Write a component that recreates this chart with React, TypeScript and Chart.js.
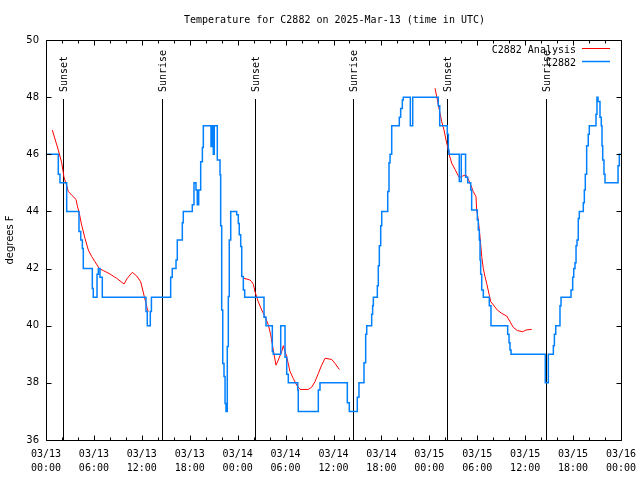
import React, { useEffect, useRef } from 'react';
import { Chart, registerables } from 'chart.js';

Chart.register(...registerables);

const chartTitle = 'Temperature for C2882 on 2025-Mar-13 (time in UTC)';
const yAxisTitle = 'degrees F';

// x positions are hours since 03/13 00:00 UTC
const xTickDates = ['03/13', '03/13', '03/13', '03/13', '03/14', '03/14', '03/14', '03/14', '03/15', '03/15', '03/15', '03/15', '03/16'];
const xTickTimes = ['00:00', '06:00', '12:00', '18:00', '00:00', '06:00', '12:00', '18:00', '00:00', '06:00', '12:00', '18:00', '00:00'];

const eventHours = [2.13, 14.56, 26.17, 38.48, 50.25, 62.57];
const eventLabels = ['Sunset', 'Sunrise', 'Sunset', 'Sunrise', 'Sunset', 'Sunrise'];

// C2882 observations (value holds from its hour until the next change)
const stationHours = [
  0, 1.54, 1.75, 2.59, 4.13, 4.35, 4.55, 4.67, 5.8, 5.92, 6.39, 6.55, 6.76, 7.05,
  12.52, 12.68, 13.06, 13.2, 15.61, 15.81, 16.28, 16.44, 17.07, 17.19, 18.32, 18.53,
  18.78, 18.94, 19.12, 19.37, 19.58, 19.7, 20.66, 20.82, 20.95, 21.07, 21.45, 21.79,
  21.87, 22.0, 22.13, 22.29, 22.42, 22.54, 22.7, 22.83, 22.95, 23.13, 23.88, 24.08,
  24.2, 24.38, 24.51, 24.71, 24.88, 27.3, 27.55, 28.34, 28.46, 29.39, 29.93, 30.14,
  30.34, 31.52, 31.59, 34.1, 34.31, 37.73, 37.98, 38.98, 39.19, 39.82, 40.03, 40.16,
  40.78, 40.9, 40.99, 41.49, 41.61, 41.74, 41.91, 42.04, 42.79, 42.95, 43.08, 43.29,
  44.24, 44.41, 44.62, 44.74, 45.62, 45.92, 49.12, 49.3, 50.25, 50.38, 50.46, 51.75,
  52.0, 52.54, 52.8, 53.18, 53.3, 54.01, 54.13, 54.26, 54.35, 54.43, 54.56, 54.76,
  55.51, 55.72, 57.81, 57.98, 58.1, 58.23, 62.52, 62.9, 63.53, 63.66, 63.83, 64.36,
  64.49, 65.74, 65.95, 66.08, 66.24, 66.37, 66.49, 66.65, 66.78, 67.28, 67.41, 67.53,
  67.7, 67.9, 68.03, 68.87, 68.99, 69.12, 69.37, 69.53, 69.62, 69.71, 69.87, 70.0,
  71.63, 71.79, 72
];
const stationTemps = [
  46, 45.3, 45, 44, 43.3, 43, 42.7, 42, 41.3, 41, 41.8, 42, 41.7, 41,
  40.5, 40, 40.5, 41, 41.7, 42, 42.3, 43, 43.6, 44, 44.23, 45,
  44.75, 44.23, 44.75, 45.74, 46.24, 47, 46.27, 47, 46.0, 47, 45.8, 45.28,
  43.5, 40.55, 38.68, 38.22, 37.28, 37.0, 39.27, 41.02, 43.0, 44, 43.88, 43.58,
  43.18, 42.77, 41.72, 41.25, 41, 40.3, 40, 39.1, 39, 40, 38.9, 38.3,
  38, 37.75, 37, 37.75, 38, 37.3, 37, 37.5, 38, 38.7, 39.7, 40,
  40.4, 40.7, 41, 41.4, 42.1, 42.8, 43.5, 44, 44.7, 45.7, 46, 47,
  47.3, 47.6, 47.9, 48, 47, 48, 47.7, 47, 46.7, 46.15, 46, 45.05,
  46, 45.2, 45, 44.75, 44.05, 43.7, 43.35, 43, 42.3, 41.8, 41.25, 41,
  40.7, 40, 39.7, 39.4, 39.15, 39, 38, 39, 39.3, 39.7, 40, 40.7,
  41, 41.25, 41.7, 42, 42.2, 42.8, 43, 43.75, 44, 44.3, 44.75, 45.3,
  46.3, 46.7, 47, 47.4, 48, 47.85, 47.3, 47, 46.3, 45.8, 45.3, 45,
  45.6, 46, 46
];

// C2882 Analysis (null separates the three runs)
const analysisHours = [
  0.79, 1.54, 1.97, 2.25, 2.59, 2.79, 3.22, 3.76, 3.92, 4.17, 4.47, 4.88, 5.3, 5.72,
  6.14, 6.67, 7.18, 8.01, 8.85, 9.77, 10.18, 10.81, 11.36, 11.86, 12.11, 12.31, 12.52,
  12.68, 12.81,
  18.0,
  24.79, 25.54, 25.76, 25.96, 26.17, 26.58, 27.01, 27.42, 27.84, 28.14, 28.46, 28.8,
  29.09, 29.51, 29.71, 30.14, 30.55, 30.97, 31.39, 31.81, 32.85, 33.27, 33.68, 34.1,
  34.52, 34.94, 35.78, 36.19, 36.73,
  42.0,
  48.71, 49.05, 49.34, 49.55, 49.84, 50.09, 50.38, 50.5, 50.8, 51.22, 51.75, 52.18,
  52.47, 52.68, 52.88, 53.18, 53.51, 53.84, 53.93, 54.13, 54.35, 54.56, 54.76, 54.97,
  55.18, 55.51, 55.69, 56.01, 56.51, 57.06, 57.69, 58.1, 58.52, 59.02, 59.69, 60.11,
  60.82
];
const analysisTemps = [
  46.85, 46.15, 45.7, 45.2, 44.9, 44.7, 44.57, 44.42, 44.2, 43.93, 43.52, 43.06, 42.65, 42.42,
  42.24, 42.0, 41.93, 41.81, 41.66, 41.46, 41.66, 41.87, 41.74, 41.54, 41.25, 41.02, 40.78,
  40.6, 40.5,
  null,
  41.66, 41.6, 41.54, 41.45, 41.19, 40.84, 40.55, 40.32, 40.03, 39.68, 39.15, 38.62,
  38.8, 39.09, 39.3, 38.92, 38.4, 38.15, 37.92, 37.77, 37.77, 37.85, 38.04, 38.33,
  38.62, 38.86, 38.82, 38.68, 38.47,
  null,
  48.31, 47.84, 47.43, 47.14, 46.85, 46.5, 46.15, 45.98, 45.69, 45.47, 45.18, 45.24,
  45.27, 45.25, 45.13, 44.93, 44.69, 44.52, 44.05, 43.7, 43.1, 42.42, 42.0, 41.72,
  41.48, 41.07, 40.84, 40.73, 40.55, 40.43, 40.34, 40.14, 39.94, 39.83, 39.79, 39.85,
  39.87
];

const MONO = '"DejaVu Sans Mono", "Liberation Mono", monospace';
const SANS = '"DejaVu Sans", "Liberation Sans", sans-serif';

const decorPlugin = {
  id: 'decor',
  beforeDatasetsDraw(chart: any) {
    const { ctx, chartArea } = chart;
    const xs = chart.scales.x;
    ctx.save();
    ctx.strokeStyle = '#000';
    ctx.lineWidth = 1;
    ctx.fillStyle = '#000';
    ctx.font = '10px ' + MONO;
    eventHours.forEach((h, i) => {
      const px = Math.round(xs.getPixelForValue(h)) + 0.5;
      ctx.beginPath();
      ctx.moveTo(px, chartArea.top + 59);
      ctx.lineTo(px, chartArea.bottom);
      ctx.stroke();
      ctx.save();
      ctx.translate(px + 1, chartArea.top + 52);
      ctx.rotate(-Math.PI / 2);
      ctx.textAlign = 'left';
      ctx.textBaseline = 'middle';
      ctx.fillText(eventLabels[i], 0, 0);
      ctx.restore();
    });
    ctx.restore();
  },
  afterDatasetsDraw(chart: any) {
    const { ctx, chartArea } = chart;
    const xs = chart.scales.x;
    const ys = chart.scales.y;
    const L = chartArea.left + 0.5, R = chartArea.right + 0.5;
    const T = chartArea.top + 0.5, B = chartArea.bottom + 0.5;
    ctx.save();
    ctx.strokeStyle = '#000';
    ctx.lineWidth = 1;
    ctx.beginPath();
    ctx.rect(L, T, R - L, B - T);
    ctx.stroke();
    ctx.beginPath();
    xs.ticks.forEach((t: any) => {
      const px = Math.round(xs.getPixelForValue(t.value)) + 0.5;
      const len = t.value % 6 === 0 ? 5 : 3;
      ctx.moveTo(px, B); ctx.lineTo(px, B - len);
      ctx.moveTo(px, T); ctx.lineTo(px, T + len);
    });
    ys.ticks.forEach((t: any) => {
      const py = Math.round(ys.getPixelForValue(t.value)) + 0.5;
      ctx.moveTo(L, py); ctx.lineTo(L + 5, py);
      ctx.moveTo(R, py); ctx.lineTo(R - 5, py);
    });
    ctx.stroke();
    ctx.restore();
  },
  afterDraw(chart: any) {
    const { ctx, chartArea } = chart;
    ctx.save();
    ctx.fillStyle = '#000';
    ctx.font = '10px ' + MONO;
    ctx.textAlign = 'center';
    ctx.textBaseline = 'middle';
    ctx.fillText(chartTitle, (chartArea.left + chartArea.right) / 2 + 1, 20);
    // y axis title
    ctx.save();
    ctx.font = '10px ' + SANS;
    ctx.translate(10, (chartArea.top + chartArea.bottom) / 2);
    ctx.rotate(-Math.PI / 2);
    ctx.textAlign = 'center';
    ctx.textBaseline = 'middle';
    ctx.fillText(yAxisTitle, 0, 0);
    ctx.restore();
    // legend
    const legendOrder = [1, 0];
    legendOrder.forEach((di, row) => {
      const ds = chart.data.datasets[di];
      const y = chartArea.top + 10 + row * 13;
      ctx.font = '10px ' + MONO;
      ctx.textAlign = 'right';
      ctx.textBaseline = 'middle';
      ctx.fillStyle = '#000';
      ctx.fillText(ds.label, chartArea.right - 45, y);
      ctx.strokeStyle = ds.borderColor;
      ctx.lineWidth = ds.borderWidth;
      ctx.beginPath();
      ctx.moveTo(chartArea.right - 39, y - 1.5);
      ctx.lineTo(chartArea.right - 11, y - 1.5);
      ctx.stroke();
    });
    ctx.restore();
  }
};

export default function App() {
  const canvasRef = useRef<HTMLCanvasElement | null>(null);

  useEffect(() => {
    const canvas = canvasRef.current;
    if (!canvas) return;
    const stationData = stationHours.map((h, i) => ({ x: h, y: stationTemps[i] }));
    const analysisData = analysisHours.map((h, i) => ({ x: h, y: analysisTemps[i] }));
    const chart = new Chart(canvas, {
      type: 'line',
      data: {
        datasets: [
          {
            label: 'C2882',
            data: stationData,
            borderColor: '#0080ff',
            backgroundColor: '#0080ff',
            borderWidth: 1.5,
            pointRadius: 0,
            stepped: 'before',
            fill: false,
            order: 0,
          },
          {
            label: 'C2882 Analysis',
            data: analysisData,
            borderColor: '#ff0000',
            backgroundColor: '#ff0000',
            borderWidth: 1,
            pointRadius: 0,
            tension: 0,
            spanGaps: false,
            fill: false,
            order: 1,
          },
        ],
      },
      options: {
        responsive: false,
        animation: false,
        devicePixelRatio: 1,
        layout: { padding: { left: 0, right: 19, top: 40, bottom: 0 } },
        plugins: {
          legend: { display: false },
          title: { display: false },
          tooltip: { enabled: false },
        },
        scales: {
          x: {
            type: 'linear',
            min: 0,
            max: 72,
            grid: { display: false, drawTicks: false },
            border: { display: false },
            afterFit: (scale: any) => {
              scale.height = 40;
              scale.paddingLeft = 0;
              scale.paddingRight = 0;
            },
            ticks: {
              stepSize: 2,
              autoSkip: false,
              maxRotation: 0,
              minRotation: 0,
              padding: 7,
              color: '#000',
              font: { family: MONO, size: 10, lineHeight: 1.4 },
              callback: (value: any) => {
                const v = Number(value);
                if (v % 6 !== 0) return '';
                const i = v / 6;
                return [xTickDates[i], xTickTimes[i]];
              },
            },
          },
          y: {
            type: 'linear',
            min: 36,
            max: 50,
            grid: { display: false, drawTicks: false },
            border: { display: false },
            afterFit: (scale: any) => {
              scale.width = 46;
              scale.paddingTop = 0;
              scale.paddingBottom = 0;
            },
            ticks: {
              stepSize: 2,
              padding: 7,
              color: '#000',
              font: { family: SANS, size: 10 },
            },
          },
        },
      },
      plugins: [decorPlugin],
    });
    return () => chart.destroy();
  }, []);

  return (
    <div style={{ position: 'absolute', left: 0, top: 0, width: 640, height: 480, background: '#fff' }}>
      <canvas ref={canvasRef} width={640} height={480} style={{ display: 'block' }} />
    </div>
  );
}
